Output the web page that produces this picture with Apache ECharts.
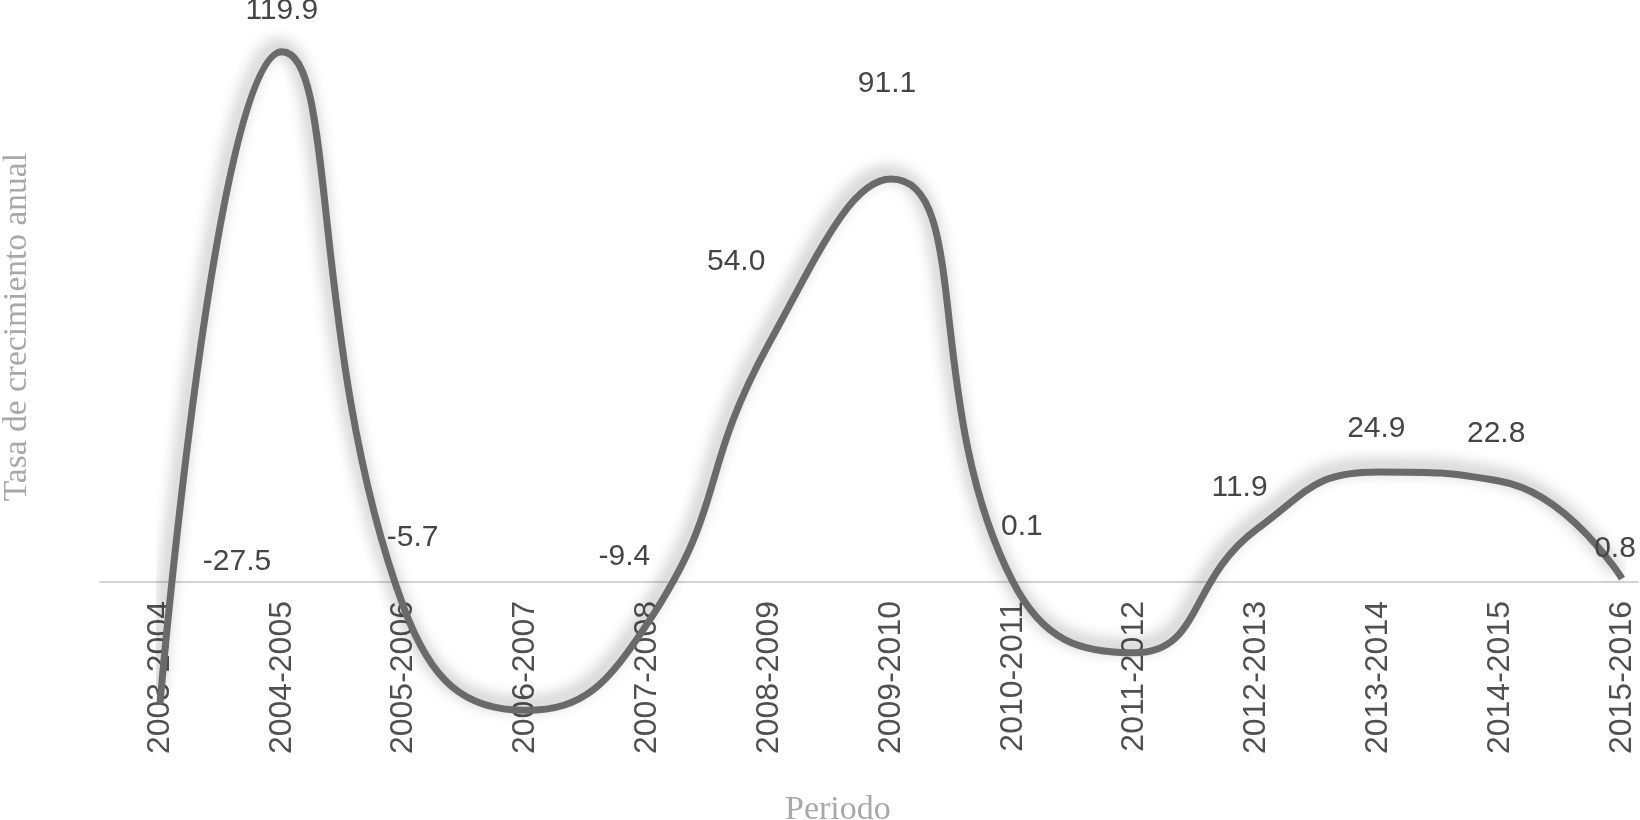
<!DOCTYPE html>
<html>
<head>
<meta charset="utf-8">
<script src="https://cdn.jsdelivr.net/npm/echarts@6/dist/echarts.min.js"></script>
<style>
  html, body { margin: 0; padding: 0; background: #fff; }
  #chart { width: 1640px; height: 820px; }
</style>
</head>
<body>
<div id="chart"></div>
<script>
// ------------------------------------------------------- //
// Data
// ------------------------------------------------------ //
var periodos = ['2003-2004', '2004-2005', '2005-2006', '2006-2007', '2007-2008', '2008-2009',
                '2009-2010', '2010-2011', '2011-2012', '2012-2013', '2013-2014', '2014-2015', '2015-2016'];
var tasaCrecimiento = [-27.5, 119.9, -5.7, -29.0, -9.4, 54.0, 91.1, 0.1, -16.0, 11.9, 24.9, 22.8, 0.8];
// labels printed on the chart (null = no label shown)
var etiquetas = ['-27.5', '119.9', '-5.7', null, '-9.4', '54.0', '91.1', '0.1', null, '11.9', '24.9', '22.8', '0.8'];

// label nudges, in pixels from the point (style only)
var labelShift = [[77, -142], [0, -41], [9, -70], [0, 0], [-23, -67], [-33, -81], [-4, -95],
                  [9, -55], [0, 0], [-17, -42], [-2, -43], [-4, -47], [-7, -30]];

var yMin = -40, yMax = 130;

var chart = echarts.init(document.getElementById('chart'));

var seriesData = tasaCrecimiento.map(function (v, i) {
    return {
        value: v,
        label: {
            show: etiquetas[i] !== null,
            offset: labelShift[i]
        }
    };
});

var option = {
    animation: false,
    backgroundColor: '#ffffff',
    grid: [
        {left: 160, right: 18, top: 7, bottom: 61, outerBoundsMode: 'none', containLabel: false},
        {left: 100, right: 2, top: 7, bottom: 61, outerBoundsMode: 'none', containLabel: false}
    ],
    xAxis: [
        {
            type: 'category',
            gridIndex: 0,
            data: periodos,
            boundaryGap: false,
            // put the period labels just under the zero line
            offset: -177,
            axisLine: {show: false, onZero: false},
            axisTick: {show: false},
            splitLine: {show: false},
            axisLabel: {
                rotate: 90,
                margin: 19,
                interval: 0,
                color: '#505050',
                fontSize: 32,
                fontFamily: 'Liberation Sans'
            }
        },
        {
            type: 'value',
            gridIndex: 1,
            min: 0,
            max: 1,
            axisLine: {show: true, onZero: true, lineStyle: {color: '#d4d4d4', width: 2}},
            axisTick: {show: false},
            axisLabel: {show: false},
            splitLine: {show: false}
        }
    ],
    yAxis: [
        {type: 'value', gridIndex: 0, min: yMin, max: yMax, show: false},
        {type: 'value', gridIndex: 1, min: yMin, max: yMax, show: false}
    ],
    graphic: [
        {
            type: 'text',
            left: 0,
            top: 153,
            rotation: Math.PI / 2,
            style: {
                text: 'Tasa de crecimiento anual',
                fill: '#a8a8a8',
                font: '33.5px "Liberation Serif"'
            }
        },
        {
            type: 'text',
            left: 785,
            top: 793,
            style: {
                text: 'Periodo',
                fill: '#a8a8a8',
                font: '34px "Liberation Serif"'
            }
        }
    ],
    series: [{
        type: 'line',
        xAxisIndex: 0,
        yAxisIndex: 0,
        data: seriesData,
        smooth: 0.5,
        symbol: 'circle',
        symbolSize: 2,
        showSymbol: true,
        itemStyle: {color: 'rgba(0,0,0,0)'},
        lineStyle: {
            color: '#6a6a6a',
            width: 7,
            shadowColor: 'rgba(0,0,0,0.38)',
            shadowBlur: 16,
            shadowOffsetX: -4,
            shadowOffsetY: -6
        },
        label: {
            show: true,
            position: 'inside',
            color: '#454545',
            fontSize: 30,
            fontFamily: 'Liberation Sans',
            formatter: function (p) { return etiquetas[p.dataIndex] || ''; }
        },
        z: 3
    }]
};
chart.setOption(option);

window.addEventListener('resize', function () {
    chart.resize();
});
</script>
</body>
</html>
